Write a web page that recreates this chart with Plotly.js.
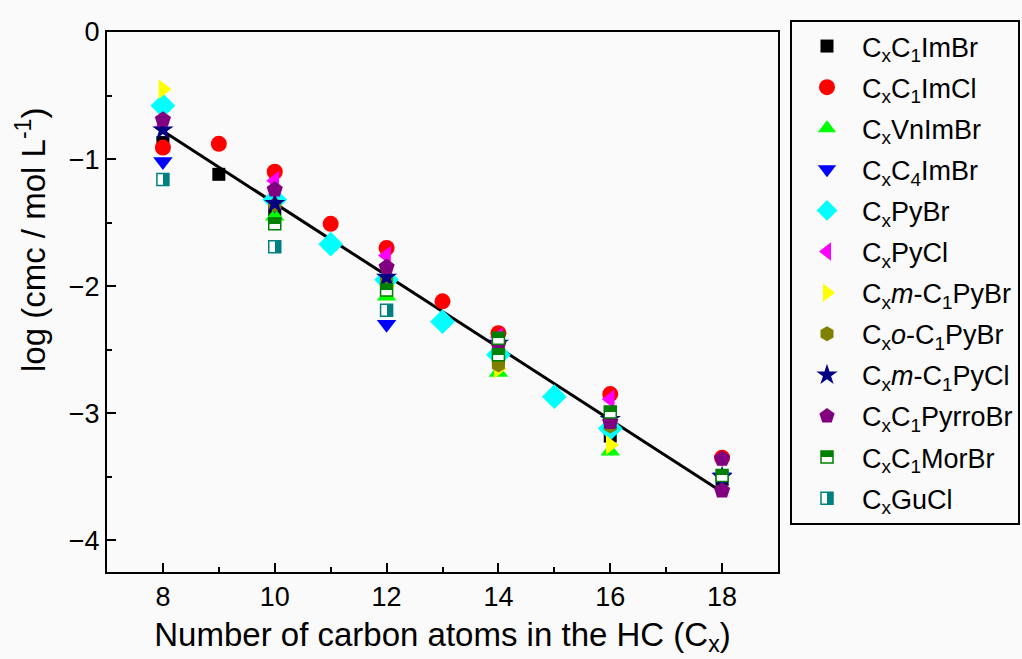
<!DOCTYPE html>
<html>
<head>
<meta charset="utf-8">
<script src="https://cdn.plot.ly/plotly-3.0.1.min.js"></script>
<style>html,body{margin:0;padding:0;background:#fafafa;}</style>
</head>
<body>
<svg width="0" height="0" style="position:absolute">
  <defs>
    <linearGradient id="halfTop" x1="0" y1="0" x2="0" y2="1">
      <stop offset="0" stop-color="#008000"/><stop offset="0.5" stop-color="#008000"/>
      <stop offset="0.5" stop-color="#ffffff"/><stop offset="1" stop-color="#ffffff"/>
    </linearGradient>
    <linearGradient id="halfRight" x1="0" y1="0" x2="1" y2="0">
      <stop offset="0" stop-color="#ffffff"/><stop offset="0.5" stop-color="#ffffff"/>
      <stop offset="0.5" stop-color="#008080"/><stop offset="1" stop-color="#008080"/>
    </linearGradient>
  </defs>
</svg>
<div id="chart" style="width:1022px;height:659px;"></div>
<script>
// ---- data ----
const imbrX = [8, 9, 10, 12, 14, 16, 18];
const imbrY = [-0.87, -1.12, -1.42, -1.97, -2.57, -3.18, -3.52];
const imclX = [8, 9, 10, 11, 12, 13, 14, 16, 18];
const imclY = [-0.91, -0.88, -1.10, -1.51, -1.70, -2.12, -2.37, -2.85, -3.35];
const vnX = [10, 12, 14, 16];
const vnY = [-1.45, -2.08, -2.68, -3.30];
const c4X = [8, 10, 12, 18];
const c4Y = [-1.02, -1.36, -2.30, -3.50];
const pybrX = [8, 10, 11, 12, 13, 14, 15, 16];
const pybrY = [-0.58, -1.32, -1.67, -1.95, -2.28, -2.54, -2.87, -3.12];
const pyclX = [8, 10, 12, 14, 16];
const pyclY = [-0.75, -1.17, -1.76, -2.40, -2.89];
const mbrX = [8, 12, 14, 16];
const mbrY = [-0.45, -2.00, -2.65, -3.25];
const obrX = [10, 12, 14, 16];
const obrY = [-1.36, -1.95, -2.62, -3.10];
const mclX = [8, 10, 12, 14, 16, 18];
const mclY = [-0.77, -1.35, -1.93, -2.45, -3.05, -3.50];
const pyrX = [8, 10, 12, 14, 16, 18, 18];
const pyrY = [-0.69, -1.24, -1.85, -2.46, -3.07, -3.36, -3.61];
const morX = [10, 12, 14, 14, 16, 18];
const morY = [-1.51, -2.03, -2.41, -2.54, -2.99, -3.49];
const guX = [8, 10, 12];
const guY = [-1.16, -1.69, -2.19];
const fitX = [8, 18];
const fitY = [-0.78, -3.62];

const xTicks = [8, 10, 12, 14, 16, 18];
const yTicks = [0, -1, -2, -3, -4];
const yTickText = ['0', '\u22121', '\u22122', '\u22123', '\u22124'];

const FONT = 'Liberation Sans, Arial, sans-serif';

function sc(name, x, y, symbol, color, size, lw, lc) {
  return {
    type: 'scatter', mode: 'markers', name: name, x: x, y: y,
    legendgroup: name,
    marker: {symbol: symbol, color: color, size: size,
      line: {width: lw || 0, color: lc || color}},
    hoverinfo: 'x+y'
  };
}

const traces = [
  {type: 'scatter', mode: 'lines', x: fitX, y: fitY, line: {color: 'black', width: 3}, showlegend: false, hoverinfo: 'skip'},
  sc('C<sub>x</sub>C<sub>1</sub>ImBr', imbrX, imbrY, 'square', '#000000', 13),
  sc('C<sub>x</sub>C<sub>1</sub>ImCl', imclX, imclY, 'circle', '#ff0000', 16),
  sc('C<sub>x</sub>VnImBr', vnX, vnY, 'triangle-up', '#00ff00', 17),
  sc('C<sub>x</sub>C<sub>4</sub>ImBr', c4X, c4Y, 'triangle-down', '#0000ff', 17),
  sc('C<sub>x</sub>PyBr', pybrX, pybrY, 'diamond', '#00ffff', 19),
  sc('C<sub>x</sub>PyCl', pyclX, pyclY, 'triangle-left', '#ff00ff', 17),
  sc('C<sub>x</sub><i>m</i>-C<sub>1</sub>PyBr', mbrX, mbrY, 'triangle-right', '#ffff00', 17),
  sc('C<sub>x</sub><i>o</i>-C<sub>1</sub>PyBr', obrX, obrY, 'hexagon', '#808000', 15),
  sc('C<sub>x</sub><i>m</i>-C<sub>1</sub>PyCl', mclX, mclY, 'star', '#000080', 16),
  sc('C<sub>x</sub>C<sub>1</sub>PyrroBr', pyrX, pyrY, 'pentagon', '#800080', 17),
  sc('C<sub>x</sub>C<sub>1</sub>MorBr', morX, morY, 'square', '#ffffff', 12, 1.5, '#008000'),
  sc('C<sub>x</sub>GuCl', guX, guY, 'square', '#ffffff', 12, 1.5, '#008080')
];

const layout = {
  width: 1022, height: 659,
  paper_bgcolor: '#fafafa', plot_bgcolor: '#fafafa',
  margin: {l: 107, r: 244, t: 32, b: 87, autoexpand: false},
  font: {family: FONT, size: 26, color: '#000'},
  showlegend: true,
  legend: {xref: 'container', yref: 'container', x: 790 / 1022, y: 1 - 20 / 659,
    xanchor: 'left', yanchor: 'top', maxheight: 650,
    bordercolor: '#000', borderwidth: 2, bgcolor: '#fafafa',
    font: {family: FONT, size: 27}, itemwidth: 60,
    traceorder: 'grouped', tracegroupgap: 3},
  xaxis: {range: [7, 19], tickvals: xTicks, ticktext: xTicks.map(String),
    ticks: 'inside', ticklen: 9, tickwidth: 2, tickcolor: '#000',
    minor: {ticks: 'inside', ticklen: 5, tickwidth: 2, dtick: 1, tick0: 7, tickcolor: '#000'},
    showline: true, linewidth: 2, linecolor: '#000', mirror: true,
    showgrid: false, zeroline: false,
    tickfont: {family: FONT, size: 27},
    title: {text: 'Number of carbon atoms in the HC (C<sub>x</sub>)', font: {family: FONT, size: 33}, standoff: 11}},
  yaxis: {range: [-4.25, 0], tickvals: yTicks, ticktext: yTickText,
    ticks: 'inside', ticklen: 9, tickwidth: 2, tickcolor: '#000',
    minor: {ticks: 'inside', ticklen: 5, tickwidth: 2, dtick: 0.5, tick0: 0, tickcolor: '#000'},
    showline: true, linewidth: 2, linecolor: '#000', mirror: true,
    showgrid: false, zeroline: false,
    tickfont: {family: FONT, size: 27}},
  annotations: [{
    text: 'log (cmc / mol L<sup>-1</sup>)', textangle: -90, showarrow: false,
    xref: 'paper', yref: 'paper', x: (31 - 107) / 671, y: (572 - 240) / 540,
    xanchor: 'center', yanchor: 'middle', font: {family: FONT, size: 33}
  }]
};

const gd = document.getElementById('chart');
Plotly.newPlot(gd, traces, layout, {displayModeBar: false, staticPlot: true}).then(function () {
  // half-filled square markers (plot points and legend symbols)
  const styleFill = function (sel, grad) {
    sel.forEach(function (p) { p.style.fill = 'url(#' + grad + ')'; });
  };
  const plotTraces = gd.querySelectorAll('.scatterlayer .trace');
  styleFill(plotTraces[11].querySelectorAll('path.point'), 'halfTop');
  styleFill(plotTraces[12].querySelectorAll('path.point'), 'halfRight');
  const legTraces = gd.querySelectorAll('.legend .traces');
  styleFill(legTraces[10].querySelectorAll('path.scatterpts'), 'halfTop');
  styleFill(legTraces[11].querySelectorAll('path.scatterpts'), 'halfRight');
});
</script>
</body>
</html>
